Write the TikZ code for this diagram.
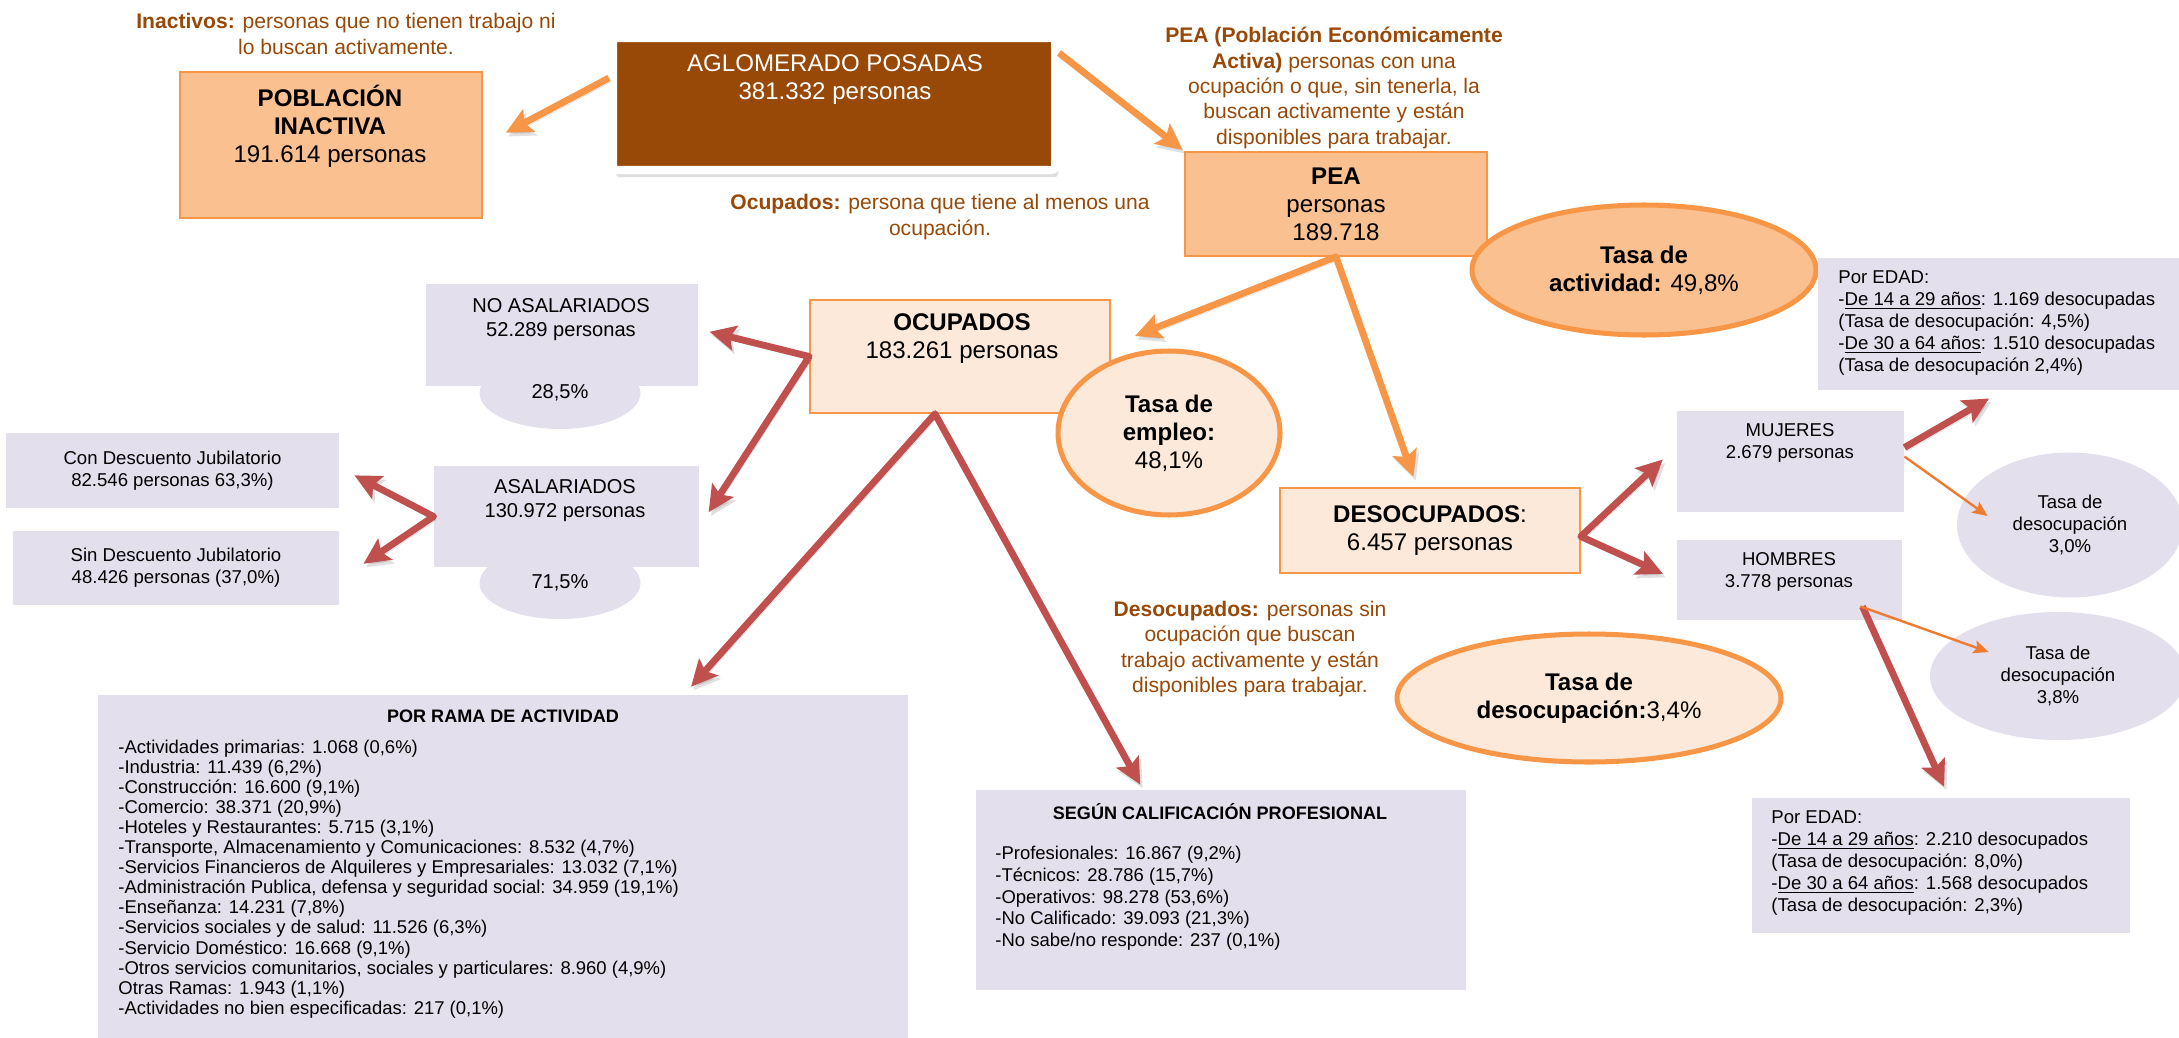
\documentclass[tikz,border=0pt]{standalone}
\usepackage{fontspec}
\setmainfont{Liberation Sans}
\usetikzlibrary{shapes,arrows.meta,calc,shadows}

\definecolor{brownbox}{HTML}{984807}
\definecolor{notebrown}{HTML}{984807}
\definecolor{peach}{HTML}{FAC090}
\definecolor{cream}{HTML}{FDE9D9}
\definecolor{orangeline}{HTML}{F79646}
\definecolor{lavender}{HTML}{E4DFEC}
\definecolor{redline}{HTML}{C0504D}
\definecolor{thinorange}{HTML}{EE7B30}
\newcommand{\pxu}{0.0175cm}

\begin{document}
\begin{tikzpicture}[x=\pxu, y=-\pxu]
			\tikzset{
				boxsize/.style 2 args={minimum width=#1*\pxu, minimum height=#2*\pxu},
				peabox/.style={rectangle, draw=orangeline, line width=0.8pt, fill=peach, inner sep=0pt},
				creambox/.style={rectangle, draw=orangeline, line width=0.8pt, fill=cream, inner sep=0pt},
				lavbox/.style={rectangle, fill=lavender, inner sep=0pt},
				rate/.style={ellipse, draw=orangeline, line width=2.5pt, inner sep=0pt},
				lavcircle/.style={ellipse, fill=lavender, inner sep=0pt},
				bigtext/.style={font=\fontsize{12}{13.9}\selectfont, align=center, inner sep=0pt},
				midtext/.style={font=\fontsize{10}{11.9}\selectfont, align=center, inner sep=0pt},
				smalltext/.style={font=\fontsize{9.25}{10.9}\selectfont, align=center, inner sep=0pt},
				listtitle/.style={font=\fontsize{9}{10}\selectfont\bfseries, inner sep=0pt},
				listtext/.style={font=\fontsize{9.2}{10}\selectfont, align=left, anchor=west, inner sep=0pt},
				note/.style={font=\fontsize{10.5}{12.6}\selectfont, text=notebrown, align=center, inner sep=0pt},
				bigtip/.tip={Stealth[length=13pt,width=12.5pt,inset=2.5pt]},
				smalltip/.tip={Stealth[length=7.5pt,width=6.5pt,inset=1.5pt]},
				shadowed/.style={preaction={draw=black, opacity=0.12, transform canvas={shift={(1.2pt,-1.8pt)}}}},
				orarrow/.style={shadowed, draw=orangeline, line width=3.4pt, line join=round, -bigtip},
				redarrow/.style={shadowed, draw=redline, line width=3.4pt, line join=round, -bigtip},
				thinarrow/.style={draw=thinorange, line width=1.2pt, -smalltip},
			}
			\useasboundingbox (0,0) rectangle (2179,1038);
			% top row
			\node[note] (inactnote) at (346,34) {\textbf{Inactivos:} personas que no tienen trabajo ni\\lo buscan activamente.};
			\node[peabox, boxsize={302}{146}] (inact) at (331,145) {};
			\node[bigtext] (inacttext) at (330,126) {\textbf{POBLACIÓN}\\\textbf{INACTIVA}\\191.614 personas};
			\node[rectangle, fill=brownbox, draw=white, line width=4pt, rounded corners=1.5pt, boxsize={442}{132}, drop shadow={shadow xshift=1.5pt, shadow yshift=-3.5pt, opacity=0.25}] (aglo) at (834,104) {};
			\node[bigtext, text=white] (aglotext) at (835,80) {AGLOMERADO POSADAS\\381.332 personas};
			\node[note] (peanote) at (1334,88) {\textbf{PEA (Población Económicamente}\\\textbf{Activa)} personas con una\\ocupación o que, sin tenerla, la\\buscan activamente y están\\disponibles para trabajar.};
			\node[peabox, bigtext, boxsize={302}{104}] (pea) at (1336,204) {\textbf{PEA}\\personas\\189.718};
			\node[note] (ocupnote) at (940,217) {\textbf{Ocupados:} persona que tiene al menos una\\ocupación.};
			\node[rate, fill=peach, bigtext, boxsize={344}{130}] (tact) at (1644,270) {\textbf{Tasa de}\\\textbf{actividad:} 49,8\%};
			% ocupados
			\node[creambox, boxsize={300}{113}] (ocup) at (960,356.5) {};
			\node[bigtext] (ocuptext) at (962,339) {\textbf{OCUPADOS}\\183.261 personas};
			\node[rate, fill=cream, bigtext, boxsize={222}{164}] (temp) at (1169,433) {\textbf{Tasa de}\\\textbf{empleo:}\\48,1\%};
			\node[lavbox, boxsize={272}{102}] (noasal) at (562,335) {};
			\node[lavcircle, midtext, boxsize={161}{72}] (noasalpct) at (560,393) {28,5\%};
			\node[midtext] (noasaltext) at (561,320) {NO ASALARIADOS\\52.289 personas};
			\node[lavbox, boxsize={265}{101}] (asal) at (566.5,516.5) {};
			\node[lavcircle, midtext, boxsize={161}{72}] (asalpct) at (560,583) {71,5\%};
			\node[midtext] (asaltext) at (565,501) {ASALARIADOS\\130.972 personas};
			\node[lavbox, smalltext, boxsize={333}{75}] (con) at (172.5,470.5) {Con Descuento Jubilatorio\\82.546 personas 63,3\%)};
			\node[lavbox, smalltext, boxsize={326}{74}] (sin) at (176,568) {Sin Descuento Jubilatorio\\48.426 personas (37,0\%)};
			% desocupados
			\node[creambox, bigtext, boxsize={300}{85}] (desoc) at (1430,530.5) {\textbf{DESOCUPADOS}:\\6.457 personas};
			\node[lavbox, boxsize={227}{101}] (muj) at (1790.5,461.5) {};
			\node[smalltext] (mujtext) at (1790,443) {MUJERES\\2.679 personas};
			\node[lavbox, boxsize={225}{80}] (homb) at (1789.5,580) {};
			\node[smalltext] (hombtext) at (1789,572) {HOMBRES\\3.778 personas};
			\node[lavbox, boxsize={370}{132}] (edad1) at (2003,324) {};
			\node[smalltext, align=left, anchor=west] (edad1text) at (1838,323) {Por EDAD:\\-\underline{De 14 a 29 años}: 1.169 desocupadas\\(Tasa de desocupación: 4,5\%)\\-\underline{De 30 a 64 años}: 1.510 desocupadas\\(Tasa de desocupación 2,4\%)};
			\node[lavcircle, smalltext, boxsize={226}{145}] (circ30) at (2070,525) {Tasa de\\desocupación\\3,0\%};
			\node[lavcircle, smalltext, boxsize={256}{128}] (circ38) at (2058,676) {Tasa de\\desocupación\\3,8\%};
			\node[lavbox, boxsize={378}{135}] (edad2) at (1941,865.5) {};
			\node[smalltext, align=left, anchor=west] (edad2text) at (1771,863) {Por EDAD:\\-\underline{De 14 a 29 años}: 2.210 desocupados\\(Tasa de desocupación: 8,0\%)\\-\underline{De 30 a 64 años}: 1.568 desocupados\\(Tasa de desocupación: 2,3\%)};
			\node[rate, fill=cream, bigtext, boxsize={384}{128}] (tdes) at (1589,698) {\textbf{Tasa de}\\\textbf{desocupación:}3,4\%};
			\node[note] (desocnote) at (1250,649) {\textbf{Desocupados:} personas sin\\ocupación que buscan\\trabajo activamente y están\\disponibles para trabajar.};
			% bottom lists
			\node[lavbox, boxsize={810}{350}] (rama) at (503,870) {};
			\node[listtitle] (ramatitle) at (503,716) {POR RAMA DE ACTIVIDAD};
			\node[listtext] (ramalist) at (118,879) {-Actividades primarias: 1.068 (0,6\%)\\-Industria: 11.439 (6,2\%)\\-Construcción: 16.600 (9,1\%)\\-Comercio: 38.371 (20,9\%)\\-Hoteles y Restaurantes: 5.715 (3,1\%)\\-Transporte, Almacenamiento y Comunicaciones: 8.532 (4,7\%)\\-Servicios Financieros de Alquileres y Empresariales: 13.032 (7,1\%)\\-Administración Publica, defensa y seguridad social: 34.959 (19,1\%)\\-Enseñanza: 14.231 (7,8\%)\\-Servicios sociales y de salud: 11.526 (6,3\%)\\-Servicio Doméstico: 16.668 (9,1\%)\\-Otros servicios comunitarios, sociales y particulares: 8.960 (4,9\%)\\Otras Ramas: 1.943 (1,1\%)\\-Actividades no bien especificadas: 217 (0,1\%)};
			\node[lavbox, boxsize={490}{200}] (segun) at (1221,890) {};
			\node[listtitle] (seguntitle) at (1220,812) {SEGÚN CALIFICACIÓN PROFESIONAL};
			\node[listtext, font=\fontsize{9.2}{10.8}\selectfont] (segunlist) at (995,898.5) {-Profesionales: 16.867 (9,2\%)\\-Técnicos: 28.786 (15,7\%)\\-Operativos: 98.278 (53,6\%)\\-No Calificado: 39.093 (21,3\%)\\-No sabe/no responde: 237 (0,1\%)};
			%Draw arrows
			\draw[orarrow, shorten >=26*\pxu] ($(aglo.west)+(0,-26)$) -- (inact.east);
			\draw[orarrow, shorten >=2*\pxu] ($(aglo.north east)+(0,19)$) -- (pea.north west);
			\draw[orarrow, bigtip-bigtip, shorten <=26*\pxu, shorten >=11*\pxu] ($(ocup.east)+(0,-11)$) -- (pea.south) -- ($(desoc.north)+(-13,0)$);
			\draw[redarrow, bigtip-bigtip, shorten <=11.5*\pxu, shorten >=17*\pxu] ($(noasal.east)+(0,-6)$) -- (ocup.west) -- ($(asal.east)+(0,10)$);
			\draw[redarrow, bigtip-bigtip, shorten <=17*\pxu, shorten >=29*\pxu] ($(con.east)+(0,-3)$) -- (asal.west) -- ($(sin.east)+(0,12)$);
			\draw[redarrow, bigtip-bigtip, shorten <=10.6*\pxu, shorten >=5.7*\pxu] ($(rama.north)+(181,0)$) -- ($(ocup.south)+(-25,0)$) -- ($(segun.north)+(-78,0)$);
			\draw[redarrow, bigtip-bigtip, shorten <=19*\pxu, shorten >=15*\pxu] ($(muj.west)+(0,-15)$) -- ($(desoc.east)+(0,6)$) -- (homb.west);
			\draw[redarrow, shorten >=16*\pxu] ($(muj.east)+(0,-14)$) -- (edad1.south);
			\draw[redarrow, shorten >=12*\pxu] ($(homb.south east)+(-40,-14)$) -- ($(edad2.north)+(8,0)$);
			\draw[thinarrow] ($(muj.east)+(0,-5)$) -- ($(circ30.west)+(31,-9)$);
			\draw[thinarrow] ($(homb.south east)+(-42,-14)$) -- ($(circ38.west)+(59,-24)$);
		\end{tikzpicture}
\end{document}
